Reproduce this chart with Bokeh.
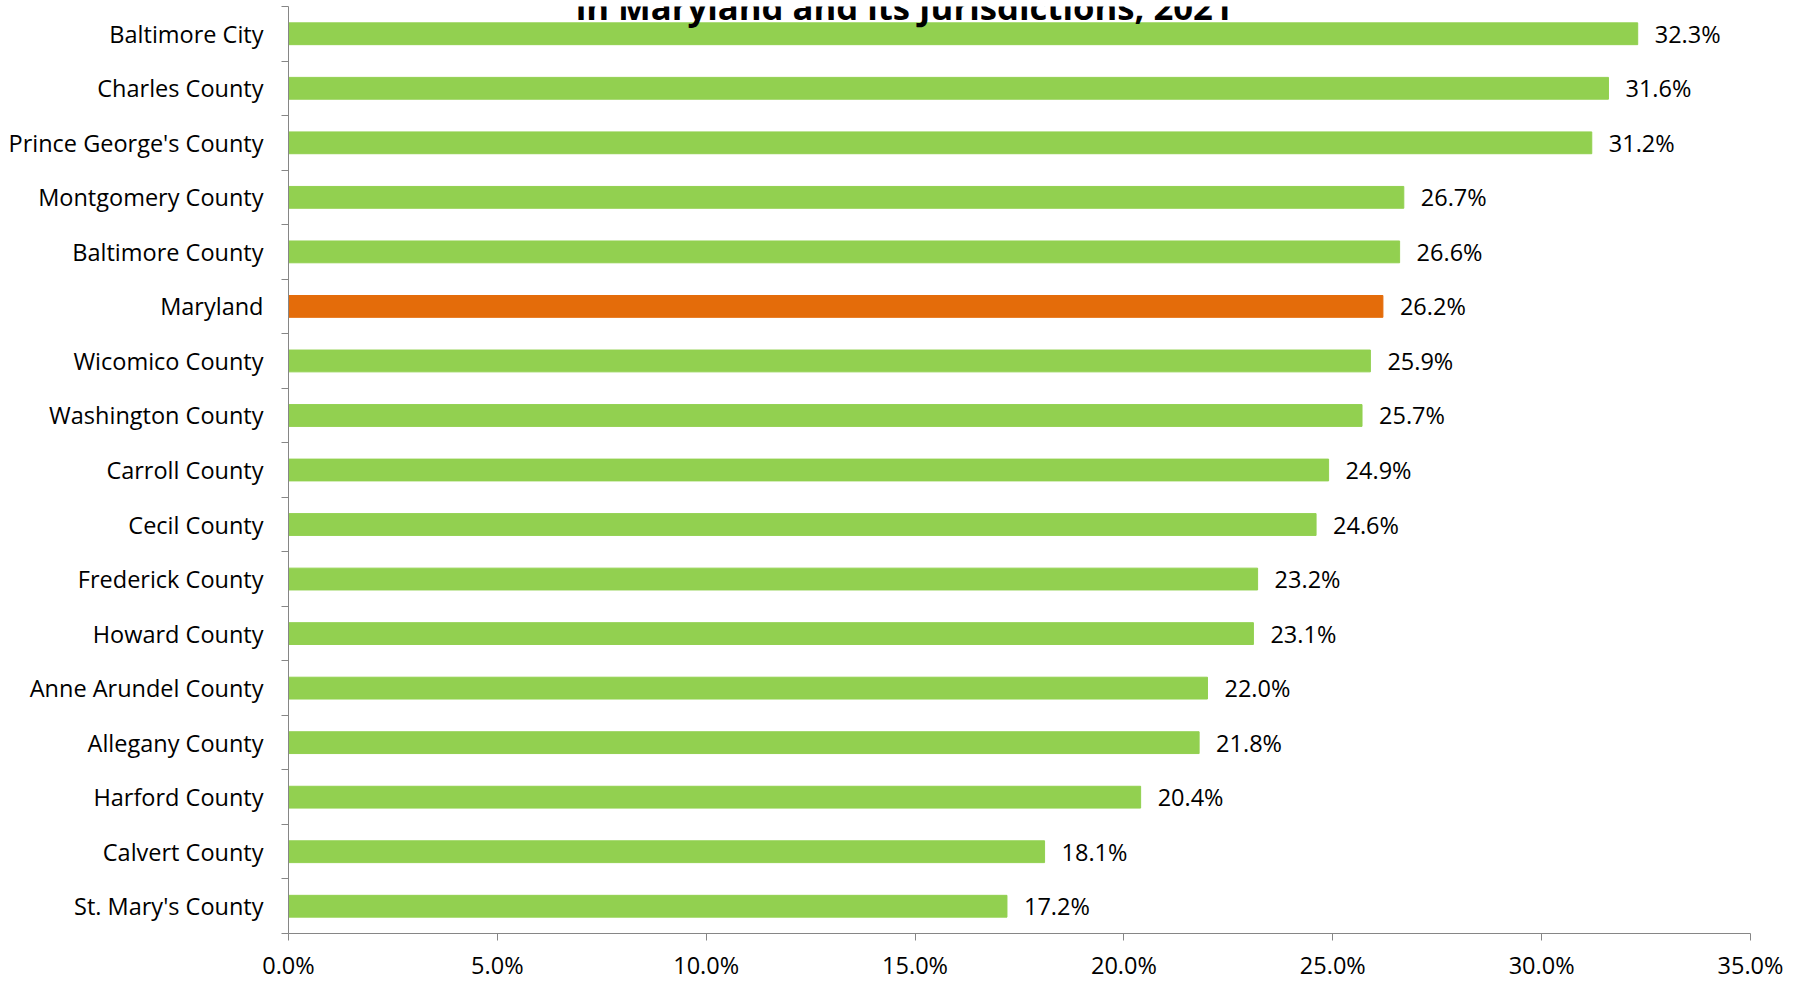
from bokeh.plotting import figure
from bokeh.models import Range1d, FixedTicker, PrintfTickFormatter, Label, ColumnDataSource
from bokeh.core.properties import value
from bokeh.embed import file_html
from bokeh.resources import INLINE

# Top-to-bottom order as in the reference
jurisdictions = ["Baltimore City", "Charles County", "Prince George's County", "Montgomery County",
                 "Baltimore County", "Maryland", "Wicomico County", "Washington County",
                 "Carroll County", "Cecil County", "Frederick County", "Howard County",
                 "Anne Arundel County", "Allegany County", "Harford County", "Calvert County",
                 "St. Mary's County"]
percentages = [32.3, 31.6, 31.2, 26.7, 26.6, 26.2, 25.9, 25.7, 24.9, 24.6, 23.2, 23.1,
               22.0, 21.8, 20.4, 18.1, 17.2]
x_ticks = [0, 5, 10, 15, 20, 25, 30, 35]
title_text = "in Maryland and its Jurisdictions, 2021"

GREEN = "#92D050"
ORANGE = "#E46C0A"
AXIS = "#868686"
FONT = "Open Sans"
FS = "23.5px"

n = len(jurisdictions)
ypos = [n - 1 - i for i in range(n)]
colors = [ORANGE if j == "Maryland" else GREEN for j in jurisdictions]
labels = ["%.1f%%" % v for v in percentages]

src = ColumnDataSource(dict(y=ypos, v=percentages, c=colors, lab=labels))

p = figure(width=1800, height=983, output_backend="svg", toolbar_location=None,
           x_range=Range1d(0, 35), y_range=Range1d(-0.5, n - 0.5),
           min_border_left=288, min_border_right=50, min_border_top=6, min_border_bottom=47)
p.outline_line_color = None
p.xgrid.visible = False
p.ygrid.visible = False
p.background_fill_color = "white"

p.hbar(y="y", right="v", left=0, height=0.4, color="c", source=src)
p.text(x="v", y="y", text="lab", source=src, x_offset=17, text_baseline="middle",
       text_align="left", text_font=value(FONT), text_font_size=FS, text_color="black")

# x axis
xa = p.xaxis[0]
xa.ticker = FixedTicker(ticks=x_ticks, minor_ticks=[])
xa.formatter = PrintfTickFormatter(format="%.1f%%")
xa.axis_line_color = AXIS
xa.major_tick_line_color = AXIS
xa.major_tick_in = 0
xa.major_tick_out = 7
xa.minor_tick_line_color = None
xa.major_label_text_font = FONT
xa.major_label_text_font_size = FS
xa.major_label_text_color = "black"
xa.major_label_text_line_height = 1.0
xa.major_label_standoff = 8

# y axis
ya = p.yaxis[0]
ya.ticker = FixedTicker(ticks=ypos, minor_ticks=[i - 0.5 for i in range(n + 1)])
ya.major_label_overrides = {yp: j for yp, j in zip(ypos, jurisdictions)}
ya.axis_line_color = AXIS
ya.major_tick_line_color = None
ya.major_tick_in = 0
ya.major_tick_out = 0
ya.minor_tick_line_color = AXIS
ya.minor_tick_in = 0
ya.minor_tick_out = 7
ya.major_label_text_font = FONT
ya.major_label_text_font_size = FS
ya.major_label_text_color = "black"
ya.major_label_standoff = 18

p.add_layout(Label(x=14.74, y=n - 0.5 - 0.002, text=title_text, text_align="center",
                   text_baseline="alphabetic", text_font=FONT, text_font_size="34.7px",
                   text_font_style="bold", text_color="black"))

open("out.html", "w").write(file_html(p, INLINE))
